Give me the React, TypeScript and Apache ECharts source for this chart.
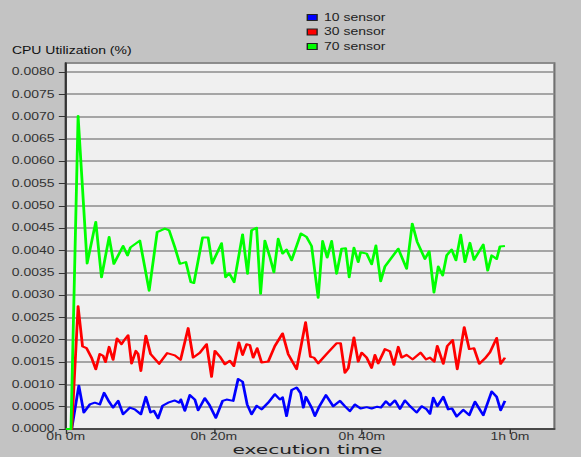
import React, { useEffect, useRef } from "react";
import * as echarts from "echarts";

const seriesNames = ["10 sensor", "30 sensor", "70 sensor"];
const seriesColors = ["#0000ff", "#ff0000", "#00ff00"];
const xTickLabels: Record<number, string> = { 0: "0h 0m", 20: "0h 20m", 40: "0h 40m", 60: "1h 0m" };
const xAxisTitle = "execution time";
const yAxisTitle = "CPU Utilization (%)";

// [minutes, CPU utilization]
const sensor10: [number, number][] = [
  [0, 0], [0.8, 0], [1.76, 0.00097], [2.43, 0.00037], [3.24, 0.00055], [3.92, 0.00059], [4.59, 0.00055],
  [5.18, 0.00081], [5.85, 0.00061], [6.39, 0.00048], [7.07, 0.00063], [7.74, 0.00033], [8.65, 0.00048],
  [9.32, 0.00044], [10.14, 0.00033], [10.81, 0.00072], [11.45, 0.00037], [11.89, 0.00041], [12.47, 0.00024],
  [13.07, 0.00052], [13.82, 0.00059], [14.73, 0.00064], [15.31, 0.00059], [15.54, 0.00066], [16.08, 0.00041],
  [16.76, 0.00076], [17.43, 0.00066], [17.88, 0.00042], [18.78, 0.00069], [19.36, 0.00055], [20.27, 0.00025],
  [21.18, 0.00063], [21.72, 0.00066], [22.61, 0.00063], [23.28, 0.00112], [23.88, 0.00106], [24.5, 0.00055],
  [25.09, 0.00033], [25.77, 0.00052], [26.45, 0.00044], [27.34, 0.00059], [28.24, 0.00078], [28.92, 0.00066],
  [29.28, 0.00071], [29.82, 0.00029], [30.5, 0.00087], [31.18, 0.00093], [31.72, 0.0008], [32.09, 0.00048],
  [32.43, 0.00072], [33.2, 0.00048], [33.65, 0.00029], [34.23, 0.0005], [35.14, 0.00076], [36.12, 0.00051],
  [37.03, 0.00063], [37.7, 0.00051], [38.38, 0.0004], [39.05, 0.00055], [39.82, 0.00046], [40.64, 0.00049],
  [41.31, 0.00046], [42.07, 0.0005], [42.57, 0.00048], [43.24, 0.00062], [43.78, 0.00053], [44.46, 0.00064],
  [45.14, 0.00045], [45.81, 0.00064], [46.39, 0.00053], [47.39, 0.00037], [48.07, 0.00051], [48.74, 0.00044],
  [49.19, 0.00034], [49.64, 0.0007], [50.18, 0.00051], [50.99, 0.00072], [51.66, 0.00044], [52.16, 0.00046],
  [52.8, 0.00028], [53.69, 0.00043], [54.5, 0.00031], [55.27, 0.00061], [56.39, 0.00031], [57.53, 0.00084],
  [58.2, 0.00072], [58.74, 0.00042], [59.32, 0.00063],
];

const sensor30: [number, number][] = [
  [0, 0], [0.8, 0], [1.66, 0.00275], [2.26, 0.00185], [2.8, 0.00181], [3.47, 0.0016], [4.05, 0.00134],
  [4.59, 0.00168], [5.04, 0.00164], [5.36, 0.0015], [5.85, 0.00184], [6.39, 0.00155], [6.92, 0.00203],
  [7.53, 0.0019], [7.84, 0.00198], [8.42, 0.0021], [8.88, 0.00147], [9.46, 0.00175], [9.77, 0.00168],
  [10.14, 0.0013], [10.81, 0.00209], [11.45, 0.00168], [12.61, 0.00146], [13.69, 0.0017], [14.73, 0.00165],
  [15.5, 0.00155], [16.53, 0.00226], [17.2, 0.0016], [18.11, 0.00171], [19.01, 0.0019], [19.69, 0.00117],
  [20.14, 0.00175], [20.91, 0.0016], [21.49, 0.00145], [22.16, 0.00153], [22.7, 0.00141], [23.38, 0.00194],
  [23.88, 0.00166], [24.42, 0.0019], [24.86, 0.00188], [25.31, 0.0016], [25.85, 0.00181], [26.45, 0.00149],
  [27.34, 0.00151], [28.24, 0.00186], [29.28, 0.00214], [30.04, 0.00168], [31.18, 0.00134], [32.39, 0.00239],
  [33.04, 0.00162], [33.51, 0.0016], [34.09, 0.00147], [35.23, 0.00168], [36.58, 0.00192], [37.12, 0.00192],
  [37.7, 0.00126], [38.15, 0.00136], [38.92, 0.00205], [39.5, 0.00151], [39.96, 0.00171], [40.64, 0.0016],
  [41.31, 0.00137], [41.76, 0.00166], [42.2, 0.00147], [43.11, 0.00179], [43.78, 0.00174], [44.32, 0.00144],
  [44.91, 0.00184], [45.36, 0.0016], [46.04, 0.00166], [46.85, 0.00156], [47.93, 0.00171], [48.65, 0.00156],
  [49.19, 0.0016], [49.77, 0.00151], [50.18, 0.00186], [50.99, 0.00146], [51.53, 0.00186], [52.26, 0.00199],
  [52.88, 0.00134], [53.82, 0.00228], [54.5, 0.00179], [55.14, 0.00181], [55.85, 0.00146], [56.62, 0.00158],
  [57.3, 0.00172], [58.2, 0.00204], [58.74, 0.00146], [59.32, 0.0016],
];

const sensor70: [number, number][] = [
  [0, 0], [0.7, 0], [1.66, 0.00701], [2.88, 0.00371], [4.05, 0.00464], [4.82, 0.0034], [5.85, 0.0043],
  [6.49, 0.0037], [7.74, 0.0041], [8.34, 0.00389], [8.74, 0.00407], [10.0, 0.00422], [11.26, 0.0031],
  [12.34, 0.00441], [13.38, 0.00449], [13.96, 0.00445], [14.73, 0.00407], [15.41, 0.0037], [16.22, 0.00374],
  [16.89, 0.00329], [17.3, 0.00327], [18.47, 0.00429], [19.23, 0.00429], [19.77, 0.00371], [21.04, 0.00416],
  [21.58, 0.0034], [22.07, 0.00349], [22.74, 0.00329], [23.88, 0.00436], [24.55, 0.00348], [25.09, 0.00445],
  [25.77, 0.00451], [26.31, 0.00303], [26.89, 0.00422], [27.57, 0.00385], [28.11, 0.00351], [28.69, 0.00426],
  [29.28, 0.00393], [29.82, 0.00402], [30.5, 0.00378], [31.76, 0.00438], [32.53, 0.0043], [33.2, 0.0041],
  [34.09, 0.00294], [34.69, 0.00421], [35.31, 0.00384], [35.91, 0.00421], [36.58, 0.00348], [37.26, 0.00404],
  [37.8, 0.00405], [38.28, 0.0034], [38.92, 0.00406], [39.5, 0.00374], [39.82, 0.00396], [40.64, 0.00393],
  [41.31, 0.00369], [41.89, 0.00411], [42.53, 0.00331], [43.11, 0.00364], [44.91, 0.00404], [46.04, 0.00359],
  [46.8, 0.0046], [47.47, 0.00419], [48.51, 0.00381], [49.09, 0.00398], [49.73, 0.00306], [50.31, 0.00364],
  [50.91, 0.00344], [51.45, 0.00389], [52.12, 0.00402], [52.7, 0.00378], [53.34, 0.00435], [53.92, 0.00374],
  [54.59, 0.00417], [55.14, 0.00379], [56.39, 0.00413], [56.99, 0.00355], [57.53, 0.00389], [58.2, 0.00381],
  [58.65, 0.00409], [59.32, 0.0041],
];

const seriesData = [sensor10, sensor30, sensor70];

const STRETCH = 1.4;
const W = 581 / STRETCH;
const H = 457;
const FONT = "'Liberation Sans', Arial, sans-serif";

export default function App() {
  const ref = useRef<HTMLDivElement>(null);
  useEffect(() => {
    document.body.style.margin = "0";
    if (!ref.current) return;
    const chart = echarts.init(ref.current, null, { renderer: "svg" });
    chart.setOption({
      animation: false,
      backgroundColor: "#c3c3c3",
      textStyle: { fontFamily: FONT },
      title: {
        text: yAxisTitle,
        left: 8.5,
        top: 45.5,
        padding: 0,
        textStyle: { fontSize: 10, fontWeight: "normal", color: "#111", fontFamily: FONT },
      },
      legend: {
        orient: "vertical",
        left: 219,
        top: 11.5,
        padding: 0,
        icon: "rect",
        itemWidth: 7,
        itemHeight: 6,
        itemGap: 2.5,
        itemStyle: { borderColor: "#222", borderWidth: 1 },
        textStyle: { fontSize: 10, color: "#222", lineHeight: 12, fontFamily: FONT },
        data: seriesNames,
      },
      graphic: [
        {
          type: "text",
          x: 219.6,
          y: 456.5,
          scaleX: 1.15,
          style: {
            text: xAxisTitle,
            fontSize: 12.5,
            fontFamily: "'DejaVu Sans', sans-serif",
            fill: "#222",
            align: "center",
            verticalAlign: "bottom",
          },
        },
      ],
      grid: {
        left: 47,
        right: 19,
        top: 63,
        bottom: 28,
        outerBoundsMode: "none",
        containLabel: false,
        show: true,
        backgroundColor: "#f0f0f0",
        borderColor: "#707070",
        borderWidth: 1.5,
      },
      xAxis: {
        type: "value",
        min: 0,
        max: 66,
        interval: 20,
        axisLine: { lineStyle: { color: "#333", width: 1.5 } },
        axisTick: { length: 5, lineStyle: { color: "#333" } },
        axisLabel: {
          fontSize: 10,
          lineHeight: 10,
          color: "#333",
          margin: 2.5,
          showMaxLabel: false,
          fontFamily: FONT,
          formatter: (v: number) => xTickLabels[v] ?? "",
        },
        splitLine: { show: false },
      },
      yAxis: {
        type: "value",
        min: 0,
        max: 0.0082,
        interval: 0.0005,
        axisLine: { show: true, lineStyle: { color: "#333", width: 1.5 } },
        axisTick: { show: true, length: 5, lineStyle: { color: "#333" } },
        axisLabel: {
          fontSize: 10,
          color: "#333",
          margin: 8,
          showMaxLabel: false,
          fontFamily: FONT,
          formatter: (v: number) => v.toFixed(4),
        },
        splitLine: { show: true, lineStyle: { color: "#8c8c8c", width: 1.5 } },
      },
      series: seriesNames.map((name, i) => ({
        name,
        type: "line",
        data: seriesData[i],
        showSymbol: false,
        symbol: "none",
        color: seriesColors[i],
        lineStyle: { color: seriesColors[i], width: 2, join: "round" },
        itemStyle: { color: seriesColors[i] },
      })),
    });
    return () => chart.dispose();
  }, []);
  return (
    <div style={{ width: 581, height: H, overflow: "hidden", background: "#c3c3c3" }}>
      <div
        ref={ref}
        style={{ width: W, height: H, transform: `scaleX(${STRETCH})`, transformOrigin: "0 0" }}
      />
    </div>
  );
}
